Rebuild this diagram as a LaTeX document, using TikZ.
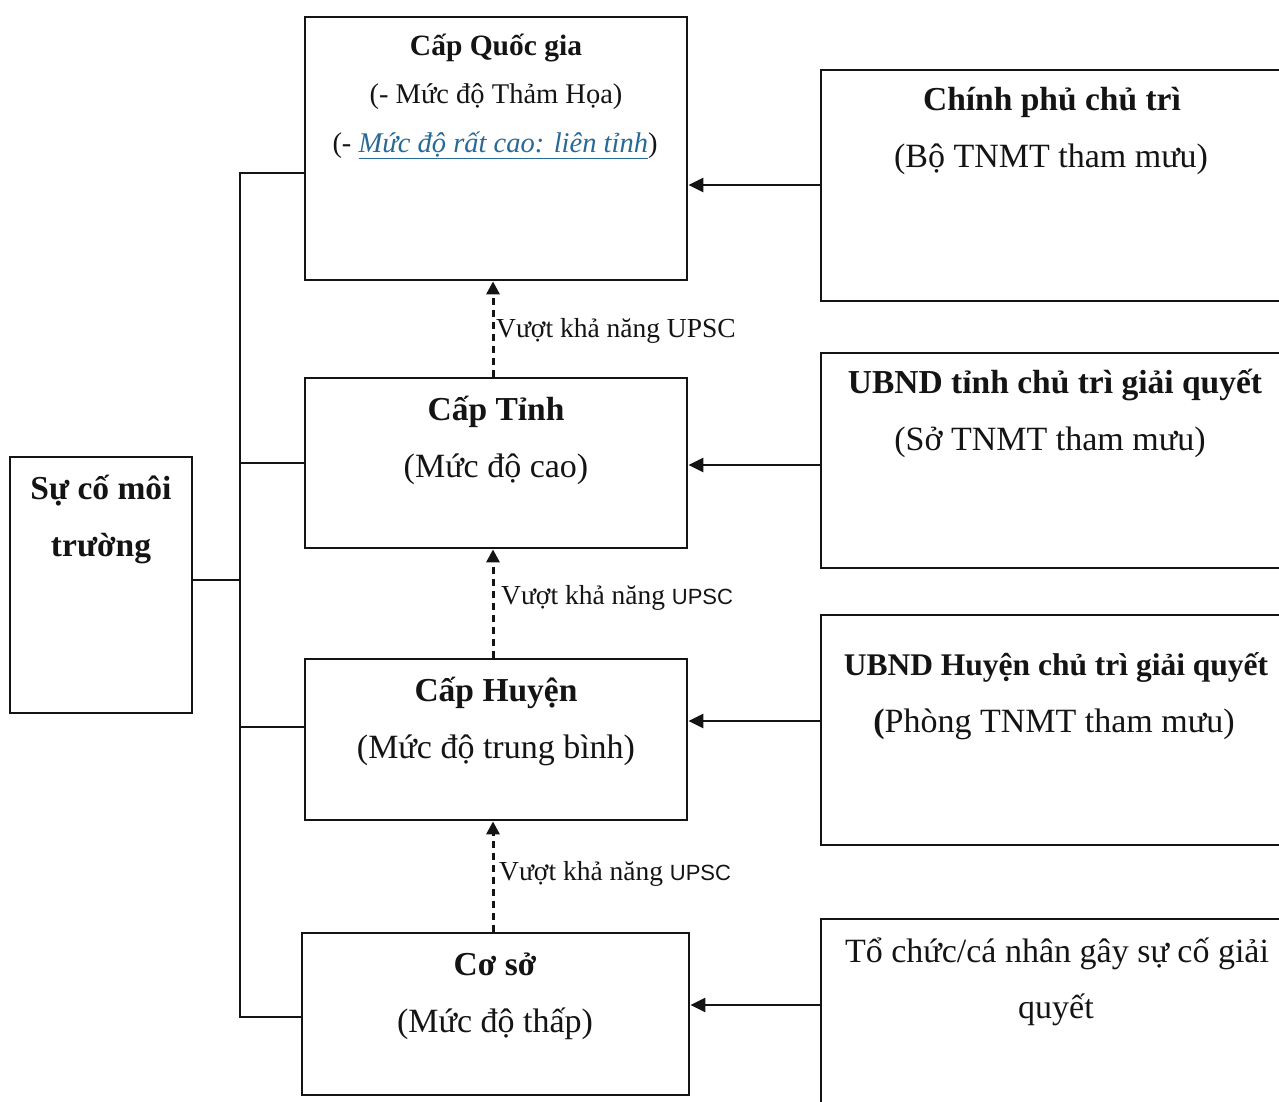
\documentclass[tikz,border=0pt]{standalone}
\usepackage{fontspec}
\setmainfont{Liberation Serif}
\newfontfamily\sansf{Liberation Sans}
\usetikzlibrary{arrows.meta}
\definecolor{ink}{RGB}{20,20,20}
\definecolor{linkblue}{RGB}{40,105,150}
\begin{document}
\begin{tikzpicture}[x=1pt,y=-1pt,
  box/.style={draw=ink, line width=2.8pt, rectangle, inner sep=0pt},
  txt/.style={anchor=base, inner sep=0pt, text=ink},
  reg/.style={font=\fontsize{34}{40}\selectfont},
  regb/.style={font=\fontsize{33.5}{40}\selectfont\bfseries},
  small/.style={font=\fontsize{28.5}{32}\selectfont},
  smallb/.style={font=\fontsize{29.5}{32}\selectfont\bfseries},
  link/.style={line width=2.8pt, draw=ink},
  harrow/.style={line width=2.8pt, draw=ink, -{Triangle[length=15pt,width=14pt]}},
  varrow/.style={line width=3pt, draw=ink, dash pattern=on 7pt off 5pt, -{Triangle[length=13pt,width=13pt]}},
  lbl/.style={anchor=base west, inner sep=0pt, text=ink, font=\fontsize{27.5}{30}\selectfont}]
\useasboundingbox (0,0) rectangle (1279,1101);
\fill[white] (0,0) rectangle (1279,1101);
\clip (0,0) rectangle (1279,1101);

% boxes
\node[box, minimum width=182pt, minimum height=256pt] (L) at (101,585) {};
\node[box, minimum width=382pt, minimum height=263pt] (Q) at (496,148.5) {};
\node[box, minimum width=382pt, minimum height=170pt] (T) at (496,463) {};
\node[box, minimum width=382pt, minimum height=161pt] (H) at (496,739.5) {};
\node[box, minimum width=387pt, minimum height=162pt] (C) at (495.5,1014) {};
\node[box, minimum width=464pt, minimum height=231pt] (R1) at (1053,185.5) {};
\node[box, minimum width=464pt, minimum height=215pt] (R2) at (1053,460.5) {};
\node[box, minimum width=464pt, minimum height=230pt] (R3) at (1053,730) {};
\node[box, minimum width=464pt, minimum height=211pt] (R4) at (1053,1024.5) {};

% texts
\node[txt, regb] (Lt1) at (101,499) {Sự cố môi};
\node[txt, regb] (Lt2) at (101,556) {trường};

\node[txt, smallb] (Qt1) at (496,55) {Cấp Quốc gia};
\node[txt, small] (Qt2) at (496,103) {(- Mức độ Thảm Họa)};
\node[txt, small] (Qt3) at (495,152) {(- \textcolor{linkblue}{\underline{\textit{Mức độ rất cao: liên tỉnh}}})};

\node[txt, regb] (Tt1) at (496,420) {Cấp Tỉnh};
\node[txt, reg] (Tt2) at (496,477) {(Mức độ cao)};

\node[txt, regb] (Ht1) at (496,701) {Cấp Huyện};
\node[txt, reg] (Ht2) at (496,758) {(Mức độ trung bình)};

\node[txt, regb] (Ct1) at (495,975) {Cơ sở};
\node[txt, reg] (Ct2) at (495,1032) {(Mức độ thấp)};

\node[txt, regb] (R1t1) at (1052,110) {Chính phủ chủ trì};
\node[txt, reg] (R1t2) at (1051,167) {(Bộ TNMT tham mưu)};

\node[txt, regb] (R2t1) at (1055,393) {UBND tỉnh chủ trì giải quyết};
\node[txt, reg] (R2t2) at (1050,450) {(Sở TNMT tham mưu)};

\node[txt, font=\fontsize{31.5}{40}\selectfont\bfseries] (R3t1) at (1056,675) {UBND Huyện chủ trì giải quyết};
\node[txt, reg] (R3t2) at (1054,732) {\textbf{(}Phòng TNMT tham mưu)};

\node[txt, reg] (R4t1) at (1057,962) {Tổ chức/cá nhân gây sự cố giải};
\node[txt, reg] (R4t2) at (1056,1018) {quyết};

% bus
\coordinate (b0) at (240,580);
\coordinate (b1) at (240,173);
\coordinate (b2) at (240,463);
\coordinate (b3) at (240,727);
\coordinate (b4) at (240,1017);
\draw[link] (Q.west |- b1) -- (b1) -- (b4) -- (C.west |- b4);
\draw[link] (b2) -- (T.west |- b2);
\draw[link] (b3) -- (H.west |- b3);
\draw[link] (L.east |- b0) -- (b0);

% horizontal arrows
\coordinate (a1) at (0,185);
\coordinate (a2) at (0,465);
\coordinate (a3) at (0,721);
\coordinate (a4) at (0,1005);
\draw[harrow] (R1.west |- a1) -- (Q.east |- a1);
\draw[harrow] (R2.west |- a2) -- (T.east |- a2);
\draw[harrow] (R3.west |- a3) -- (H.east |- a3);
\draw[harrow] (R4.west |- a4) -- (C.east |- a4);

% dashed escalation arrows
\coordinate (dx) at (493,0);
\draw[varrow] (T.north -| dx) -- (Q.south -| dx);
\draw[varrow] (H.north -| dx) -- (T.south -| dx);
\draw[varrow] (C.north -| dx) -- (H.south -| dx);

\node[lbl] (v1) at (496,337) {Vượt khả năng UPSC};
\node[lbl] (v2) at (501,604) {Vượt khả năng {\sansf\fontsize{22}{24}\selectfont UPSC}};
\node[lbl] (v3) at (499,880) {Vượt khả năng {\sansf\fontsize{22}{24}\selectfont UPSC}};
\end{tikzpicture}
\end{document}
